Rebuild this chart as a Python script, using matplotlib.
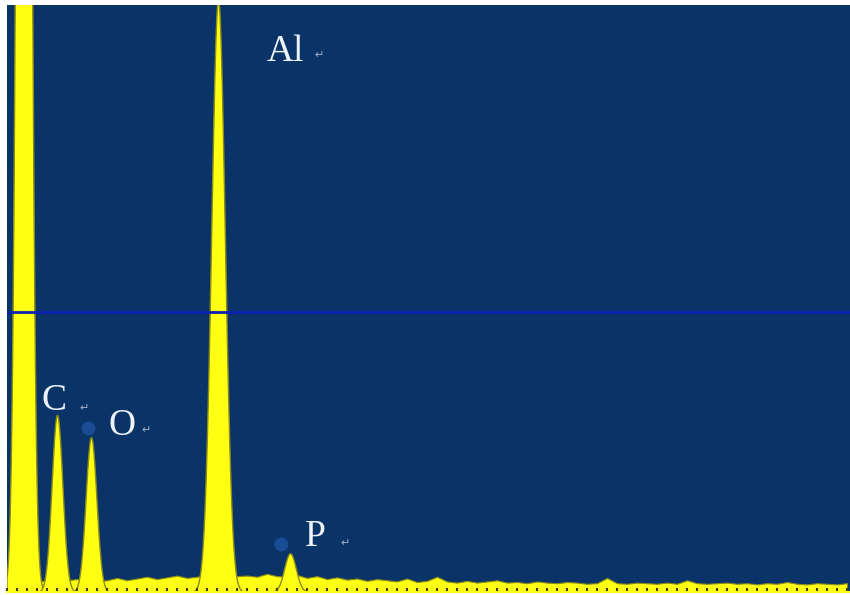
import numpy as np
import matplotlib
matplotlib.use("Agg")
import matplotlib.pyplot as plt
from matplotlib.ticker import MultipleLocator

# EDS spectrum, energy axis in arbitrary units (0.1 per tick)
elements = ["", "C", "O", "Al", "P"]
peak_pos = [0.17, 0.50, 0.84, 2.11, 2.83]
peak_height = [400.0, 30.2, 26.4, 101.0, 6.6]
peak_sigma = [0.053, 0.054, 0.054, 0.068, 0.058]

# background counts read every 0.1 units along the axis
bg_x = np.arange(0, 8.5, 0.1)
bg_y = [2.0, 2.0, 2.2, 2.0, 1.8, 1.8, 2.0, 2.2, 1.9, 1.8,
        2.0, 2.4, 2.0, 2.3, 2.6, 2.2, 2.5, 2.8, 2.4, 2.6,
        2.9, 2.6, 3.0, 2.7, 2.8, 2.6, 3.1, 2.7, 2.6, 2.9,
        2.4, 2.7, 2.2, 2.5, 2.1, 2.3, 1.9, 2.2, 2.0, 1.8,
        2.3, 1.7, 1.9, 2.6, 1.8, 1.6, 1.9, 1.6, 1.8, 2.0,
        1.6, 1.7, 1.5, 1.8, 1.6, 1.5, 1.7, 1.6, 1.4, 1.5,
        2.4, 1.5, 1.4, 1.6, 1.5, 1.4, 1.6, 1.4, 2.0, 1.5,
        1.4, 1.5, 1.6, 1.4, 1.5, 1.3, 1.5, 1.4, 1.7, 1.4,
        1.3, 1.5, 1.4, 1.3, 1.5]
hline_level = 47.7

bg_color = "#0a3468"
yellow = "#ffff14"
edge = "#8a8a18"

fig = plt.figure(figsize=(8.5, 5.95), dpi=100)
ax = fig.add_axes([7 / 850, 3 / 595, 843 / 850, 587 / 595])
ax.set_facecolor(bg_color)

x = np.linspace(0, 8.43, 3000)
ax.fill_between(bg_x, 0, bg_y, color=yellow, lw=0.8, edgecolor=edge, zorder=1)
for pos, h, s in zip(peak_pos, peak_height, peak_sigma):
    y = h * np.exp(-0.5 * ((x - pos) / s) ** 2)
    ax.fill_between(x, 0, y, color=yellow, lw=1.0, edgecolor=edge, zorder=1.5)

ax.axhline(hline_level, color="#0b22b0", lw=2.0, zorder=4)

# element labels with the paragraph marks from the original figure
lab_xy = {"C": (0.47, 32.6), "O": (1.15, 28.4), "Al": (2.78, 92.0), "P": (3.08, 9.4)}
mark_xy = {"C": (0.77, 31.3), "O": (1.39, 27.5), "Al": (3.12, 91.4), "P": (3.38, 8.4)}
for el in elements:
    if not el:
        continue
    tx, ty = lab_xy[el]
    ax.text(tx, ty, el, color="#eef2fa", fontsize=27, ha="center", va="center",
            family=["Liberation Serif", "DejaVu Serif"], zorder=6)
    mx, my = mark_xy[el]
    ax.text(mx, my, "\u21b5", color="#9fb0c8", fontsize=8, ha="center", va="center",
            family=["DejaVu Sans"], zorder=6)

# small bluish spots next to O and P labels
ax.plot([0.81, 2.74], [28.0, 8.1], "o", ms=9, color="#1a4c96", zorder=5)

ax.set_xlim(0, 8.43)
ax.set_ylim(0, 100)
ax.xaxis.set_major_locator(MultipleLocator(0.1))
ax.tick_params(axis="x", direction="in", length=3, width=1.5, color="#3a3a20",
               labelbottom=False)
ax.tick_params(axis="y", left=False, labelleft=False)
for side in ["top", "right", "left"]:
    ax.spines[side].set_visible(False)
ax.spines["bottom"].set_color(yellow)
ax.spines["bottom"].set_linewidth(1.5)

fig.savefig("out.png", dpi=100, facecolor="white")
